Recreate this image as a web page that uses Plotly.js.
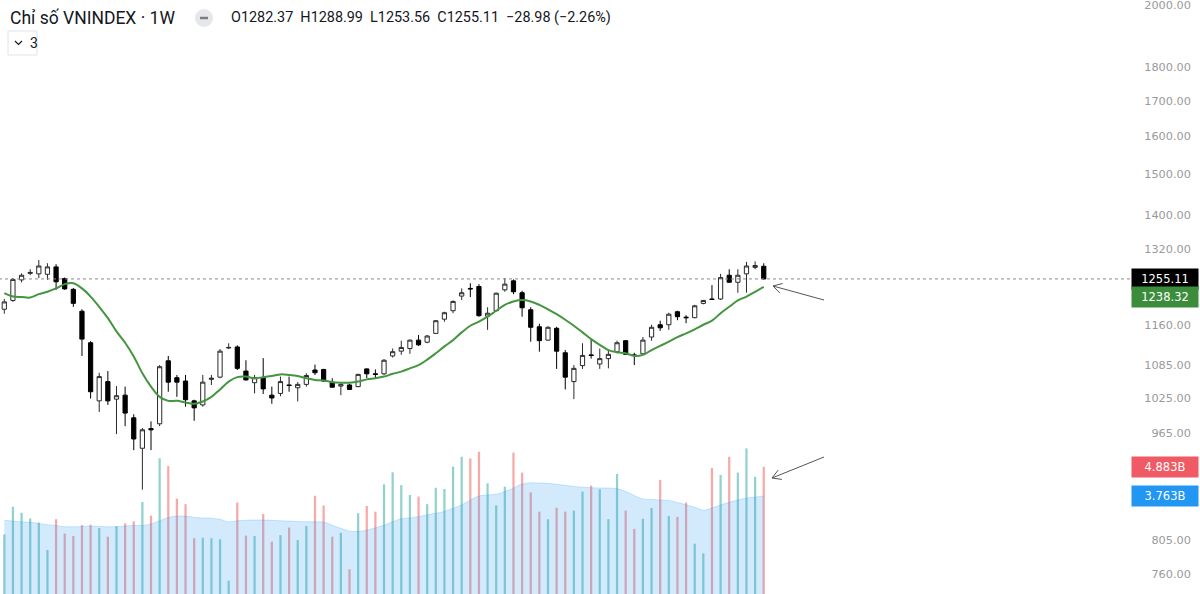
<!DOCTYPE html>
<html><head><meta charset="utf-8">
<script src="https://cdn.plot.ly/plotly-3.0.1.min.js"></script>
<style>html,body{margin:0;padding:0;background:#fff;overflow:hidden}#chart{width:1200px;height:594px}</style>
</head><body><div id="chart"></div>
<script>
// ---- Weekly VNINDEX data ----
const openP = [1192,1210,1253,1267,1266,1265,1281,1256,1233,1188,
  1126,1020,1054,1023,1030,991,941,973,981,1092,
  1061,1055,1020,1013,1058,1062,1116,1118,1073,1052,
  1061,1030,1033,1048,1043,1049,1075,1076,1053,1046,
  1048,1045,1077,1068,1068,1101,1110,1115,1131,1127,
  1144,1172,1189,1219,1235,1239,1178,1189,1232,1251,
  1226,1191,1157,1131,1154,1107,1054,1083,1103,1086,
  1096,1109,1130,1103,1105,1137,1161,1161,1187,1176,
  1175,1204,1213,1213,1263,1248,1266,1280,1282.37];
const highP = [1213,1257,1267,1276,1296,1289,1287,1258,1236,1192,
  1129,1070,1073,1046,1045,997,974,985,1084,1101,
  1066,1066,1022,1066,1066,1114,1125,1121,1093,1066,
  1097,1045,1063,1063,1053,1069,1085,1077,1060,1051,
  1050,1068,1078,1076,1095,1115,1130,1132,1141,1141,
  1170,1187,1210,1235,1246,1244,1196,1226,1257,1254,
  1230,1196,1163,1158,1157,1112,1084,1125,1132,1115,
  1112,1130,1131,1107,1137,1161,1169,1185,1189,1180,
  1201,1211,1242,1266,1276,1276,1292,1293,1288.99];
const lowP = [1183,1207,1248,1263,1257,1253,1232,1232,1197,1101,
  1024,1001,1013,964,977,938,877,938,977,1036,
  1027,1010,986,1010,1048,1060,1114,1075,1056,1033,
  1032,1015,1028,1036,1019,1045,1066,1054,1043,1030,
  1039,1044,1060,1060,1066,1098,1103,1105,1120,1125,
  1143,1167,1184,1211,1217,1177,1151,1188,1228,1223,
  1177,1128,1109,1130,1077,1040,1023,1077,1096,1077,
  1078,1106,1103,1084,1103,1130,1149,1151,1170,1164,
  1174,1202,1211,1211,1247,1226,1226,1276,1253.56];
const closeP = [1207,1254,1263,1269,1283,1281,1249,1234,1204,1133,
  1036,1063,1020,1029,999,956,971,971,1081,1053,
  1053,1022,1008,1053,1060,1110,1117,1078,1057,1061,
  1041,1025,1054,1047,1049,1065,1070,1055,1044,1049,
  1040,1067,1068,1067,1093,1109,1117,1131,1122,1139,
  1169,1185,1208,1226,1234,1179,1184,1225,1244,1228,
  1195,1156,1130,1156,1110,1062,1078,1102,1102,1096,
  1104,1126,1104,1102,1131,1156,1155,1182,1177,1175,
  1199,1210,1212,1258,1248,1263,1283,1284.09,1255.11];
const priceMA = [1225,1218,1217,1216,1223,1228,1235,1244,1246,1235,
  1218,1197,1174,1148,1126,1100,1069,1045,1027,1020,
  1020,1017,1015,1019,1027,1040,1054,1062,1063,1060,
  1062,1064,1067,1066,1064,1060,1057,1056,1053,1052,
  1052,1054,1058,1060,1063,1068,1072,1078,1084,1094,
  1106,1119,1131,1146,1159,1167,1177,1189,1201,1208,
  1211,1208,1201,1192,1182,1171,1159,1146,1133,1122,
  1112,1108,1106,1101,1103,1112,1120,1128,1137,1144,
  1152,1161,1169,1184,1197,1210,1218,1228,1238.32];
// volume in billions
const volumeB = [2.29,3.35,3.12,2.90,2.74,1.69,2.87,2.32,2.23,2.65,
  2.66,2.53,2.20,2.61,2.71,2.79,3.53,3.01,5.21,4.91,
  3.66,3.45,2.14,2.16,2.14,2.10,0.51,3.51,2.24,2.23,
  3.07,2.01,2.26,2.55,2.07,2.61,3.77,3.40,2.20,2.35,
  0.95,3.10,3.38,3.16,4.21,4.67,4.18,3.80,3.74,3.45,
  4.08,4.03,4.89,5.27,5.21,5.46,4.25,3.40,4.12,5.43,
  4.66,3.90,3.16,2.87,3.31,3.16,3.20,3.93,4.16,4.02,
  2.87,4.61,3.20,2.50,2.89,3.30,4.38,2.99,2.96,3.51,
  1.93,1.56,4.84,4.57,5.27,4.66,5.59,4.50,4.883];
const volumeMA = [2.83,2.80,2.77,2.75,2.71,2.66,2.63,2.58,2.58,2.59,
  2.61,2.59,2.58,2.58,2.61,2.63,2.63,2.69,2.81,2.94,
  2.99,2.99,2.94,2.92,2.91,2.87,2.77,2.81,2.83,2.84,
  2.84,2.83,2.81,2.80,2.78,2.77,2.77,2.76,2.64,2.52,
  2.41,2.40,2.45,2.54,2.64,2.77,2.89,2.92,2.97,3.04,
  3.10,3.17,3.29,3.42,3.61,3.76,3.80,3.83,3.93,4.07,
  4.22,4.27,4.26,4.25,4.21,4.17,4.13,4.10,4.08,4.07,
  4.07,4.04,3.94,3.78,3.65,3.63,3.61,3.59,3.51,3.43,
  3.33,3.22,3.30,3.42,3.52,3.61,3.68,3.72,3.763];
const priceTicks = [760,805,965,1025,1085,1160,1320,1400,1500,1600,1700,1800,2000];
const titleText = "Chỉ số VNINDEX · 1W";
const ohlcText = "O1282.37&nbsp;&nbsp;H1288.99&nbsp;&nbsp;L1253.56&nbsp;&nbsp;C1255.11&nbsp;&nbsp;−28.98 (−2.26%)";
const lastClose = 1255.11, lastMA = 1238.32, lastVol = 4.883, lastVolMA = 3.763;

// ---- layout helpers ----
const W = 1130, H = 594;
const weekIdx = openP.map((_, i) => i);
const px = x => x / W, py = y => 1 - y / H;
const UP = 'rgba(38,166,154,0.5)', DOWN = 'rgba(239,83,80,0.5)';
const volColors = closeP.map((c, i) => c >= openP[i] ? UP : DOWN);

const traces = [
  {type:'bar', x:weekIdx, y:volumeB, yaxis:'y2', width:0.26,
   marker:{color:volColors, line:{width:0}}, hoverinfo:'skip'},
  {type:'scatter', mode:'lines', x:weekIdx, y:volumeMA, yaxis:'y2', fill:'tozeroy',
   fillcolor:'rgba(33,150,243,0.2)', line:{color:'rgba(33,150,243,0.22)', width:1, shape:'spline'}, hoverinfo:'skip'},
  {type:'scatter', mode:'lines', x:[weekIdx[0]-2, weekIdx[weekIdx.length-1]+60], y:[lastClose, lastClose],
   line:{color:'#8a8a8a', width:1, dash:'dot'}, hoverinfo:'skip'},
  {type:'candlestick', x:weekIdx, open:openP, high:highP, low:lowP, close:closeP,
   increasing:{line:{color:'#2a2a2a', width:1}, fillcolor:'#ffffff'},
   decreasing:{line:{color:'#000000', width:1}, fillcolor:'#000000'},
   whiskerwidth:0, hoverinfo:'skip'},
  {type:'scatter', mode:'lines', x:weekIdx, y:priceMA,
   line:{color:'#43953f', width:2, shape:'spline'}, hoverinfo:'skip'}
];

const yMin = 734.4, yMax = 2017.1;
const tickText = priceTicks.map(v => (v < 1000 ? '\u2007' : '') + v.toFixed(2));

function arrow(tip, tail) {
  const dx = tail[0]-tip[0], dy = tail[1]-tip[1], L = Math.hypot(dx,dy);
  const ux = dx/L, uy = dy/L, a = Math.PI/6, h = 10;
  const r1 = [tip[0] + h*(Math.cos(a)*ux - Math.sin(a)*uy), tip[1] + h*(Math.sin(a)*ux + Math.cos(a)*uy)];
  const r2 = [tip[0] + h*(Math.cos(a)*ux + Math.sin(a)*uy), tip[1] + h*(-Math.sin(a)*ux + Math.cos(a)*uy)];
  const P = p => px(p[0]) + ',' + py(p[1]);
  return {type:'path', xref:'paper', yref:'paper',
    path:'M' + P(tail) + ' L' + P(tip) + ' M' + P(r1) + ' L' + P(tip) + ' L' + P(r2),
    line:{color:'#555', width:1}};
}

const boxLabel = (text, yref, yval, bg) => ({
  xref:'paper', x:1, xanchor:'left', xshift:1, yref:yref, y:yval, yanchor:'middle',
  text:text, showarrow:false, bgcolor:bg, borderpad:3, width:60, align:'center',
  font:{family:'DejaVu Sans', size:11.5, color:'#ffffff'}
});

const layout = {
  width:1200, height:594,
  margin:{l:0, r:70, t:0, b:0},
  paper_bgcolor:'#ffffff', plot_bgcolor:'#ffffff',
  showlegend:false, hovermode:false, dragmode:false,
  xaxis:{range:[-0.498, 130.44], showgrid:false, zeroline:false, showticklabels:false,
         ticks:'', showline:false, rangeslider:{visible:false}, fixedrange:true},
  yaxis:{type:'log', side:'right', range:[Math.log10(yMin), Math.log10(yMax)],
         tickmode:'array', tickvals:priceTicks, ticktext:tickText, ticklabeloverflow:'allow',
         showgrid:false, zeroline:false, showline:false,
         ticks:'outside', ticklen:11, tickcolor:'rgba(0,0,0,0)',
         tickfont:{family:'DejaVu Sans', size:11.3, color:'#9a9a9a'}, fixedrange:true},
  yaxis2:{overlaying:'y', side:'right', range:[0, H/26.05], visible:false, fixedrange:true},
  shapes:[
    {type:'circle', xref:'paper', yref:'paper', x0:px(195), x1:px(213), y0:py(27), y1:py(9),
     fillcolor:'#e6e7eb', line:{width:0}},
    {type:'line', xref:'paper', yref:'paper', x0:px(200), x1:px(208), y0:py(18), y1:py(18),
     line:{color:'#7a7d86', width:2.5}},
    {type:'rect', xref:'paper', yref:'paper', x0:px(8), x1:px(37), y0:py(55), y1:py(31),
     line:{color:'#e0e3eb', width:1}},
    {type:'path', xref:'paper', yref:'paper',
     path:'M'+px(15)+','+py(41)+' L'+px(18.5)+','+py(44.5)+' L'+px(22)+','+py(41),
     line:{color:'#131722', width:1.2}},
    arrow([773,286],[824,300]),
    arrow([772,478],[824,457])
  ],
  annotations:[
    {xref:'paper', yref:'paper', x:px(8), y:py(18), xanchor:'left', yanchor:'middle',
     text:titleText, showarrow:false, font:{family:'Roboto', size:17.5, color:'#131722'}},
    {xref:'paper', yref:'paper', x:px(229), y:py(18), xanchor:'left', yanchor:'middle',
     text:ohlcText, showarrow:false, font:{family:'Roboto', size:14.4, color:'#131722'}},
    {xref:'paper', yref:'paper', x:px(28), y:py(43), xanchor:'left', yanchor:'middle',
     text:'3', showarrow:false, font:{family:'Roboto', size:14, color:'#131722'}},
    boxLabel(lastClose.toFixed(2), 'y', Math.log10(lastClose), '#000000'),
    Object.assign(boxLabel(lastMA.toFixed(2), 'paper', py(297), '#3b8d3b')),
    boxLabel(lastVol.toFixed(3)+'B', 'y2', lastVol, '#f05a64'),
    boxLabel(lastVolMA.toFixed(3)+'B', 'y2', lastVolMA, '#2196f3')
  ]
};

Plotly.newPlot('chart', traces, layout, {displayModeBar:false, staticPlot:true});
</script></body></html>
